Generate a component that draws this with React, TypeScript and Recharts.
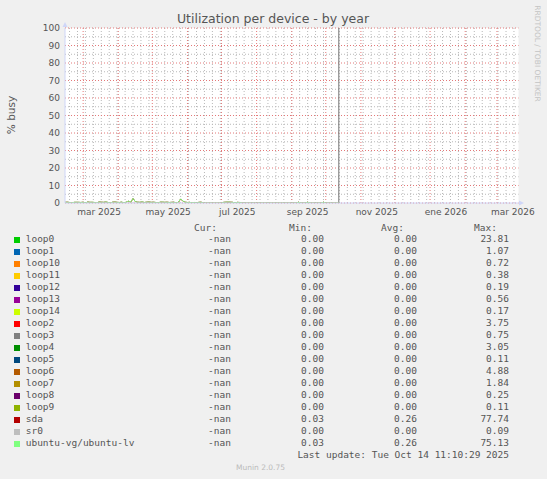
import React from "react";
import {
  LineChart,
  Line,
  XAxis,
  YAxis,
  ReferenceLine,
  ReferenceDot,
  ReferenceArea,
} from "recharts";

// x is "days since 2025-02-13"; samples every 2 days up to now (Oct 14 2025)
const STEP_DAYS = 2;

const lvValues = [
  0.4, 0.5, 0.3, 0.0, 0.4, 0.5, 0.4, 0.3,
  0.5, 0.0, 0.6, 0.4, 0.5, 0.3, 0.0, 0.6,
  0.5, 0.4, 0.7, 0.3, 0.0, 0.5, 0.6, 0.4,
  0.3, 0.6, 0.0, 0.5, 1.1, 0.4, 2.7, 0.8,
  0.5, 0.4, 0.7, 0.3, 0.5, 0.6, 0.4, 0.5,
  0.3, 0.0, 0.5, 0.6, 0.4, 0.5, 0.3, 0.4,
  0.5, 0.0, 0.4, 2.4, 1.1, 0.5, 0.3, 0.4,
  0.0, 0.3, 0.0, 0.4, 0.5, 0.0, 0.0, 0.0,
  0.0, 0.0, 0.0, 0.0, 0.0, 0.0, 0.4, 0.5,
  0.6, 0.5, 0.4, 0.0, 0.4, 0.3, 0.0, 0.0,
  0.0, 0.0, 0.0, 0.0, 0.0, 0.0, 0.0, 0.0,
  0.0, 0.0, 0.0, 0.0, 0.0, 0.0, 0.0, 0.0,
  0.0, 0.0, 0.0, 0.0, 0.0, 0.0, 0.0, 0.5,
  0.0, 0.0, 0.0, 0.5, 0.0, 0.0, 0.0, 0.0,
  0.0, 0.0, 0.5, 0.0, 0.0, 0.0, 0.0, 0.0,
  0.0, 0.0,
];

const sdaValues = [
  0.4, 0.5, 0.3, 0.0, 0.4, 0.4, 0.4, 0.3,
  0.5, 0.0, 0.6, 0.4, 0.4, 0.3, 0.0, 0.6,
  0.5, 0.4, 0.6, 0.3, 0.0, 0.5, 0.6, 0.4,
  0.3, 0.5, 0.0, 0.5, 1.0, 0.4, 2.6, 0.8,
  0.5, 0.4, 0.6, 0.3, 0.5, 0.6, 0.4, 0.5,
  0.3, 0.0, 0.5, 0.5, 0.4, 0.5, 0.3, 0.4,
  0.5, 0.0, 0.4, 2.3, 1.0, 0.5, 0.3, 0.4,
  0.0, 0.3, 0.0, 0.4, 0.5, 0.0, 0.0, 0.0,
  0.0, 0.0, 0.0, 0.0, 0.0, 0.0, 0.4, 0.5,
  0.5, 0.5, 0.4, 0.0, 0.4, 0.3, 0.0, 0.0,
  0.0, 0.0, 0.0, 0.0, 0.0, 0.0, 0.0, 0.0,
  0.0, 0.0, 0.0, 0.0, 0.0, 0.0, 0.0, 0.0,
  0.0, 0.0, 0.0, 0.0, 0.0, 0.0, 0.0, 0.5,
  0.0, 0.0, 0.0, 0.5, 0.0, 0.0, 0.0, 0.0,
  0.0, 0.0, 0.5, 0.0, 0.0, 0.0, 0.0, 0.0,
  0.0, 0.0,
];

const monthStartDays = [16, 47, 77, 108, 138, 169, 200, 230, 261, 291, 322, 353, 381];
const xTickDays = [30, 91, 152, 214, 275, 336, 395];
const xTickLabels = ["mar 2025", "may 2025", "jul 2025", "sep 2025", "nov 2025", "ene 2026", "mar 2026"];
const yTicks = [0, 10, 20, 30, 40, 50, 60, 70, 80, 90, 100];
const yMinorTicks = [5, 15, 25, 35, 45, 55, 65, 75, 85, 95];
const nowDay = 241.5;

// weekly minor grid, on Mondays (first one is Feb 17)
const weekStartDays: number[] = [];
for (let d = 4; d < 400; d += 7) weekStartDays.push(d);

const seriesNames = [
  "loop0", "loop1", "loop10", "loop11", "loop12", "loop13", "loop14", "loop2", "loop3",
  "loop4", "loop5", "loop6", "loop7", "loop8", "loop9", "sda", "sr0", "ubuntu-vg/ubuntu-lv",
];
const seriesColors = [
  "#00CC00", "#0066B3", "#FF8000", "#FFCC00", "#330099", "#990099", "#CCFF00", "#FF0000", "#808080",
  "#008F00", "#00487D", "#B35A00", "#B38F00", "#6B006B", "#8FB300", "#B30000", "#BEBEBE", "#80FF80",
];
const curValues = Array(18).fill("-nan");
const minValues = [
  "0.00", "0.00", "0.00", "0.00", "0.00", "0.00", "0.00", "0.00", "0.00",
  "0.00", "0.00", "0.00", "0.00", "0.00", "0.00", "0.03", "0.00", "0.03",
];
const avgValues = [
  "0.00", "0.00", "0.00", "0.00", "0.00", "0.00", "0.00", "0.00", "0.00",
  "0.00", "0.00", "0.00", "0.00", "0.00", "0.00", "0.26", "0.00", "0.26",
];
const maxValues = [
  "23.81", "1.07", "0.72", "0.38", "0.19", "0.56", "0.17", "3.75", "0.75",
  "3.05", "0.11", "4.88", "1.84", "0.25", "0.11", "77.74", "0.09", "75.13",
];

const rows = lvValues.map((v, i) => ({ day: i * STEP_DAYS, lv: v, sda: sdaValues[i] }));

const AXIS = "#CFD6F8";
const TXT = "#555";
const MINOR = "#B8B8B8";
const MAJOR = "#E47878";
const MONO = "'DejaVu Sans Mono', monospace";
const SANS = "'DejaVu Sans', sans-serif";

const ArrowUp = (p: any) => (
  <path d={`M${p.cx - 2.5},${p.cy - 1} L${p.cx + 2.5},${p.cy - 1} L${p.cx},${p.cy - 6} Z`} fill={AXIS} />
);
const ArrowRight = (p: any) => (
  <path d={`M${p.cx + 0.5},${p.cy - 2.5} L${p.cx + 0.5},${p.cy + 2.5} L${p.cx + 5.5},${p.cy} Z`} fill={AXIS} />
);

function LegendRow({ top, children }: { top: number; children: React.ReactNode }) {
  return (
    <div style={{ position: "absolute", left: 0, top, width: 547, height: 12, lineHeight: "12px" }}>
      {children}
    </div>
  );
}

function Cell({ right, text }: { right: number; text: string }) {
  return (
    <span style={{ position: "absolute", right: 547 - right, top: 0, whiteSpace: "pre" }}>{text}</span>
  );
}

export default function App() {
  const rowTop = (i: number) => 232.7 + 12 * i;
  return (
    <div
      style={{
        position: "absolute",
        left: 0,
        top: 0,
        width: 547,
        height: 479,
        background: "#F0F0F0",
        overflow: "hidden",
      }}
    >
      <LineChart
        width={547}
        height={230}
        data={rows}
        margin={{ top: 28, right: 28.5, bottom: 0, left: 0 }}
        style={{ position: "absolute", left: 0, top: 0 }}
      >
        <XAxis
          type="number"
          dataKey="day"
          domain={[0, 400]}
          ticks={xTickDays}
          interval={0}
          tickFormatter={(d: number) => xTickLabels[xTickDays.indexOf(d)]}
          axisLine={{ stroke: AXIS }}
          tickLine={false}
          tickSize={0}
          tickMargin={6}
          height={27}
          tick={{ fontSize: 9, fill: TXT, fontFamily: SANS }}
          allowDataOverflow
        />
        <YAxis
          type="number"
          domain={[0, 100]}
          ticks={yTicks}
          interval={0}
          axisLine={{ stroke: AXIS }}
          tickLine={false}
          tickSize={0}
          tickMargin={5}
          width={65}
          tick={{ fontSize: 9, fill: TXT, fontFamily: SANS }}
          allowDataOverflow
        />
        <ReferenceArea x1={0} x2={400} y1={0} y2={100} fill="#FFFFFF" fillOpacity={1} stroke="none" />
        {weekStartDays.map((d) => (
          <ReferenceLine key={"w" + d} x={d} stroke={MINOR} strokeDasharray="1 2" />
        ))}
        {yMinorTicks.map((v) => (
          <ReferenceLine key={"ym" + v} y={v} stroke={MINOR} strokeDasharray="1 2" />
        ))}
        {monthStartDays.map((d) => (
          <ReferenceLine key={"m" + d} x={d} stroke={MAJOR} strokeDasharray="1 2" />
        ))}
        {yTicks.map((v) => (
          <ReferenceLine key={"y" + v} y={v} stroke={MAJOR} strokeDasharray="1 2" />
        ))}
        <ReferenceLine x={nowDay} stroke="#777777" />
        <Line
          type="linear"
          dataKey="sda"
          stroke={seriesColors[15]}
          strokeWidth={1}
          dot={false}
          isAnimationActive={false}
        />
        <Line
          type="linear"
          dataKey="lv"
          stroke={seriesColors[17]}
          strokeWidth={1}
          dot={false}
          isAnimationActive={false}
        />
        <ReferenceDot x={0} y={100} r={0} shape={ArrowUp} ifOverflow="visible" />
        <ReferenceDot x={400} y={0} r={0} shape={ArrowRight} ifOverflow="visible" />
      </LineChart>

      <svg width={547} height={230} style={{ position: "absolute", left: 0, top: 0, pointerEvents: "none" }}>
        <text x={273} y={23} textAnchor="middle" fontFamily={SANS} fontSize={12.5} fill={TXT}>
          Utilization per device - by year
        </text>
        <text
          x={14.5}
          y={115}
          textAnchor="middle"
          transform="rotate(-90 14.5 115)"
          fontFamily={SANS}
          fontSize={10.5}
          fill={TXT}
        >
          % busy
        </text>
        <text
          x={534.5}
          y={53.5}
          textAnchor="middle"
          transform="rotate(90 534.5 53.5)"
          fontFamily={SANS}
          fontSize={7.5}
          fill="#C4C4C4"
        >
          RRDTOOL / TOBI OETIKER
        </text>
      </svg>

      <div style={{ fontFamily: MONO, fontSize: 9.5, color: TXT }}>
        <LegendRow top={221.7}>
          <Cell right={217} text="Cur:" />
          <Cell right={312} text="Min:" />
          <Cell right={404} text="Avg:" />
          <Cell right={497} text="Max:" />
        </LegendRow>
        {seriesNames.map((name, i) => (
          <LegendRow key={name} top={rowTop(i)}>
            <span
              style={{
                position: "absolute",
                left: 13.5,
                top: 4,
                width: 6,
                height: 6,
                background: seriesColors[i],
              }}
            />
            <span style={{ position: "absolute", left: 25.7, top: 0, whiteSpace: "pre" }}>{name}</span>
            <Cell right={231} text={curValues[i]} />
            <Cell right={324} text={minValues[i]} />
            <Cell right={417} text={avgValues[i]} />
            <Cell right={509} text={maxValues[i]} />
          </LegendRow>
        ))}
        <LegendRow top={rowTop(18)}>
          <Cell right={509} text="Last update: Tue Oct 14 11:10:29 2025" />
        </LegendRow>
      </div>
      <div
        style={{
          position: "absolute",
          left: 0,
          width: 521,
          top: 463,
          textAlign: "center",
          fontFamily: SANS,
          fontSize: 7.5,
          color: "#BBBBBB",
          lineHeight: "10px",
        }}
      >
        Munin 2.0.75
      </div>
    </div>
  );
}
